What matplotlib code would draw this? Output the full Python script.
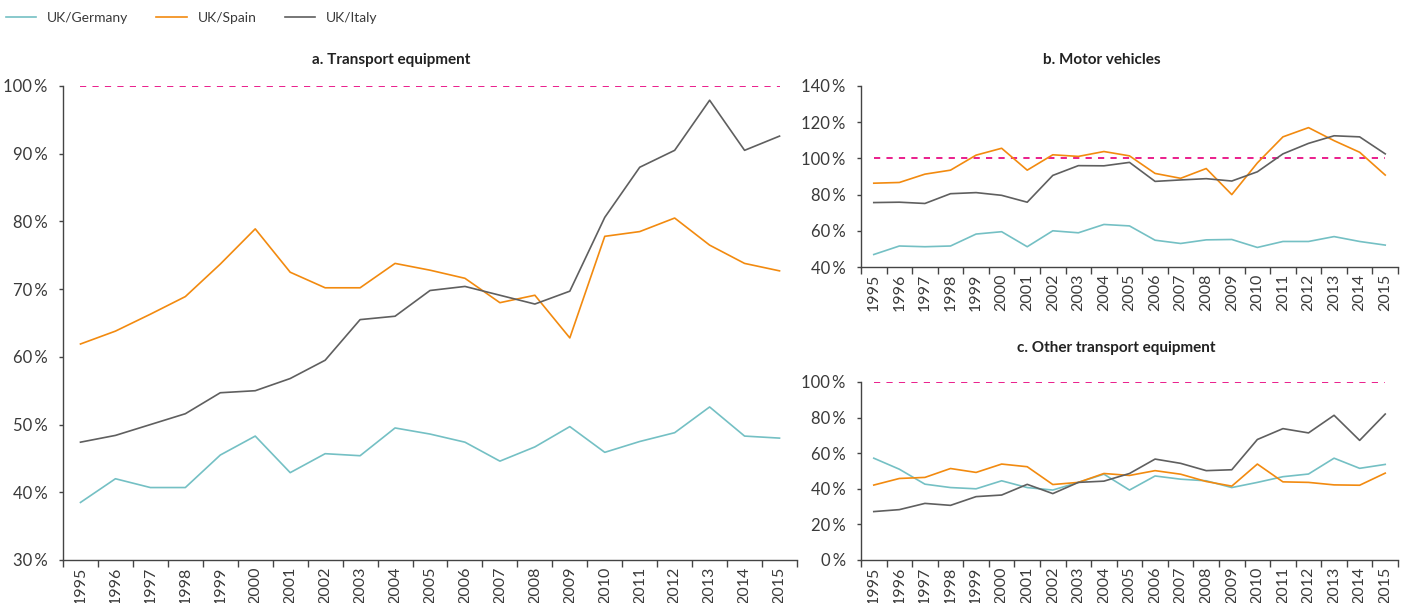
import numpy as np
import matplotlib
matplotlib.use("Agg")
import matplotlib.pyplot as plt
from matplotlib.ticker import FixedLocator, FuncFormatter

years = [str(y) for y in range(1995, 2016)]

# a. Transport equipment
a_germany = [38.5, 42.0, 40.7, 40.7, 45.5, 48.3, 42.9, 45.7, 45.4, 49.5, 48.6, 47.4, 44.6, 46.7, 49.7, 45.9, 47.5, 48.8, 52.6, 48.3, 48.0]
a_spain = [61.9, 63.8, 66.3, 68.9, 73.7, 78.9, 72.5, 70.2, 70.2, 73.8, 72.8, 71.6, 68.0, 69.1, 62.8, 77.8, 78.5, 80.5, 76.5, 73.8, 72.7]
a_italy = [47.4, 48.4, 50.0, 51.6, 54.7, 55.0, 56.8, 59.5, 65.5, 66.0, 69.8, 70.4, 69.1, 67.8, 69.7, 80.6, 88.0, 90.5, 97.9, 90.5, 92.6]

# b. Motor vehicles
b_germany = [46.9, 51.6, 51.2, 51.6, 58.2, 59.5, 51.2, 60.0, 58.9, 63.5, 62.7, 54.8, 53.0, 55.0, 55.2, 50.8, 54.1, 54.1, 56.8, 54.1, 52.1]
b_spain = [86.3, 86.7, 91.3, 93.5, 101.8, 105.6, 93.5, 102.0, 101.1, 103.8, 101.4, 91.7, 89.0, 94.4, 80.0, 97.5, 111.9, 117.0, 109.8, 103.4, 90.8]
b_italy = [75.6, 75.8, 75.1, 80.5, 81.1, 79.6, 75.8, 90.6, 96.0, 95.9, 97.8, 87.3, 88.1, 88.8, 87.5, 92.6, 102.5, 108.3, 112.5, 111.9, 102.5]

# c. Other transport equipment
c_germany = [57.2, 51.0, 42.6, 40.7, 40.0, 44.5, 40.7, 39.3, 43.6, 48.2, 39.3, 47.2, 45.4, 44.5, 40.7, 43.6, 46.8, 48.3, 57.2, 51.5, 53.7]
c_spain = [42.1, 45.8, 46.4, 51.4, 49.2, 53.9, 52.4, 42.4, 43.6, 48.6, 47.5, 50.2, 48.2, 44.1, 41.5, 53.9, 43.9, 43.6, 42.2, 42.0, 48.8]
c_italy = [27.2, 28.3, 31.8, 30.7, 35.6, 36.5, 42.5, 37.3, 43.6, 44.3, 48.6, 56.7, 54.3, 50.2, 50.7, 67.7, 73.8, 71.4, 81.3, 67.2, 82.0]

series_names = ["UK/Germany", "UK/Spain", "UK/Italy"]
colors = ["#74c0c4", "#f28a0f", "#5f5f5f"]
ref_color = "#ea1e8c"
parity = 100

plt.rcParams['font.family'] = ['Lato', 'DejaVu Sans']
text_color = "#3a3a3a"

fig = plt.figure(figsize=(14.07, 6.03), dpi=100)
W, H = 1407, 603

def px_axes(l, t, r, b):
    return fig.add_axes([l / W, 1 - b / H, (r - l) / W, (b - t) / H])

ax_a = px_axes(63, 86, 797, 560)
ax_b = px_axes(861, 86, 1398, 267)
ax_c = px_axes(861, 382, 1398, 560)

panels = [
    (ax_a, [a_germany, a_spain, a_italy], (30, 100), np.arange(30, 101, 10)),
    (ax_b, [b_germany, b_spain, b_italy], (40, 140), np.arange(40, 141, 20)),
    (ax_c, [c_germany, c_spain, c_italy], (0, 100), np.arange(0, 101, 20)),
]

x = np.arange(len(years))
for ax, data, ylim, yticks in panels:
    ax.plot([x[0], x[-1]], [parity, parity], color=ref_color, lw=1.4,
            dashes=(3.2, 3.2), zorder=1)
    for vals, col, name in zip(data, colors, series_names):
        ax.plot(x, vals, color=col, lw=1.2, label=name, zorder=2)
    ax.set_xlim(-0.5, len(years) - 0.5)
    ax.set_ylim(*ylim)
    ax.set_yticks(yticks)
    ax.yaxis.set_major_formatter(FuncFormatter(lambda v, p: f"{v:.0f}\u2009%"))
    ax.set_xticks(x)
    ax.set_xticklabels(years, rotation=90)
    ax.xaxis.set_minor_locator(FixedLocator(np.arange(-0.5, len(years), 1.0)))
    ax.tick_params(axis='x', which='major', length=0, pad=5, labelsize=11.5, colors=text_color)
    ax.tick_params(axis='x', which='minor', length=5, width=1, color="#444444", direction='out')
    ax.tick_params(axis='y', which='major', length=3, width=1, color="#444444", pad=8,
                   labelsize=12, labelcolor=text_color)
    for s in ['top', 'right']:
        ax.spines[s].set_visible(False)
    for s in ['left', 'bottom']:
        ax.spines[s].set_color("#444444")
        ax.spines[s].set_linewidth(1.0)

fig.text(391 / W, 1 - 60 / H, "a. Transport equipment", ha='center', va='center',
         fontsize=11, fontweight='bold', color="#222222")
fig.text(1102 / W, 1 - 60 / H, "b. Motor vehicles", ha='center', va='center',
         fontsize=11, fontweight='bold', color="#222222")
fig.text(1116 / W, 1 - 348 / H, "c. Other transport equipment", ha='center', va='center',
         fontsize=11, fontweight='bold', color="#222222")

handles, labels = ax_a.get_legend_handles_labels()
handles = handles[-3:]
labels = labels[-3:]
fig.legend(handles, labels, loc='upper left', bbox_to_anchor=(0.0, 1 - 6 / H), ncol=3,
           frameon=False, fontsize=10, handlelength=2.2, handletextpad=0.8,
           columnspacing=2.0, borderaxespad=0.0, labelcolor=text_color)

fig.savefig("out.png", dpi=100)
